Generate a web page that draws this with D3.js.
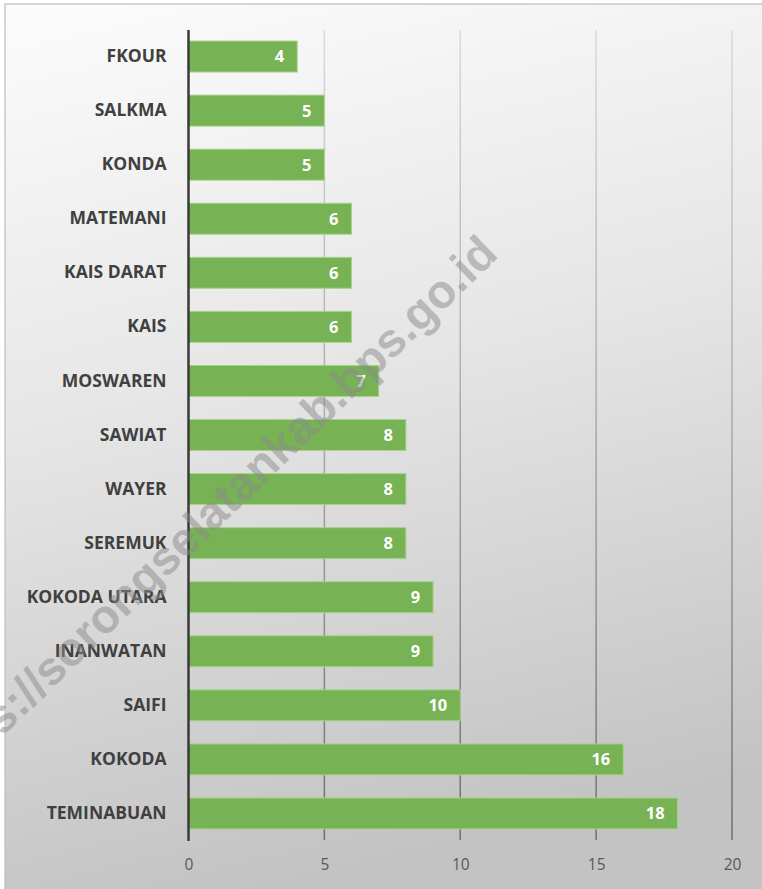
<!DOCTYPE html>
<html>
<head>
<meta charset="utf-8">
<script src="https://cdn.jsdelivr.net/npm/d3@7"></script>
<style>
  html, body { margin: 0; padding: 0; background: #ffffff; }
  svg { display: block; }
</style>
</head>
<body>
<svg id="chart" width="762" height="889"></svg>
<script>
const categories = ["FKOUR","SALKMA","KONDA","MATEMANI","KAIS DARAT","KAIS","MOSWAREN","SAWIAT","WAYER","SEREMUK","KOKODA UTARA","INANWATAN","SAIFI","KOKODA","TEMINABUAN"];
const values = [4,5,5,6,6,6,7,8,8,8,9,9,10,16,18];
const tickValues = [0,5,10,15,20];
const watermark = "https://sorongselatankab.bps.go.id";

const W = 762, H = 889;
const svg = d3.select("#chart");
const defs = svg.append("defs");

const bg = defs.append("linearGradient").attr("id","bg")
  .attr("x1","0.1").attr("y1","0").attr("x2","0.3").attr("y2","1");
bg.append("stop").attr("offset","0").attr("stop-color","#fbfbfb");
bg.append("stop").attr("offset","0.45").attr("stop-color","#e6e6e6");
bg.append("stop").attr("offset","1").attr("stop-color","#c3c3c3");

const gl = defs.append("linearGradient").attr("id","grid")
  .attr("gradientUnits","userSpaceOnUse")
  .attr("x1",0).attr("y1",30).attr("x2",0).attr("y2",840);
gl.append("stop").attr("offset","0").attr("stop-color","#dadada");
gl.append("stop").attr("offset","0.5").attr("stop-color","#a8a8a8");
gl.append("stop").attr("offset","1").attr("stop-color","#6e6e6e");

svg.append("rect").attr("x",5).attr("y",4).attr("width",W).attr("height",H)
  .attr("fill","url(#bg)").attr("stroke","#bdbdbd").attr("stroke-width",1.2);

const x = d3.scaleLinear().domain([0,20]).range([188.5,732]);
const y = d3.scaleBand().domain(categories).range([29.5,840.5])
  .paddingInner(0.427).paddingOuter(0.2135);

// gridlines
svg.append("g").selectAll("line.grid").data(tickValues.filter(d => d > 0)).join("line")
  .attr("class","grid")
  .attr("x1", d => x(d)).attr("x2", d => x(d))
  .attr("y1", 30).attr("y2", 840)
  .attr("stroke","url(#grid)").attr("stroke-width",1.5);

// tick labels via axis
const xAxis = d3.axisBottom(x).tickValues(tickValues).tickSize(0).tickPadding(0);
const gx = svg.append("g").attr("transform","translate(0,859)").call(xAxis);
gx.select(".domain").remove();
gx.selectAll("text")
  .attr("font-family","'Open Sans', sans-serif")
  .attr("font-size","15.5px")
  .attr("fill","#595959");

// bars
svg.append("g").selectAll("rect.bar").data(categories).join("rect")
  .attr("class","bar")
  .attr("x", x(0))
  .attr("y", d => y(d))
  .attr("width", (d,i) => x(values[i]) - x(0))
  .attr("height", y.bandwidth())
  .attr("fill","#77b255")
  .attr("stroke","#a8d38a").attr("stroke-width",1);

// zero axis line
svg.append("line")
  .attr("x1", x(0)).attr("x2", x(0)).attr("y1", 30).attr("y2", 841)
  .attr("stroke","#3a3a3a").attr("stroke-width",2.5);

// category labels
const gy = svg.append("g").attr("transform",`translate(${x(0)},0)`)
  .call(d3.axisLeft(y).tickSize(0).tickPadding(22));
gy.select(".domain").remove();
gy.selectAll("text")
  .attr("font-family","'Open Sans', sans-serif")
  .attr("font-weight","700")
  .attr("font-size","17.5px")
  .attr("fill","#404040");

// value labels
svg.append("g").selectAll("text.val").data(categories).join("text")
  .attr("class","val")
  .attr("x", (d,i) => x(values[i]) - 13)
  .attr("y", d => y(d) + y.bandwidth()/2)
  .attr("dy","0.36em")
  .attr("text-anchor","end")
  .attr("font-family","'Open Sans', sans-serif")
  .attr("font-weight","700")
  .attr("font-size","16.5px")
  .attr("fill","#ffffff")
  .text((d,i) => values[i]);

// watermark
svg.append("text")
  .attr("transform","translate(500,256) rotate(-44)")
  .attr("text-anchor","end")
  .attr("font-family","'Liberation Sans', Arial, sans-serif")
  .attr("font-weight","700")
  .attr("font-size","47px")
  .attr("fill","#8a8a8a")
  .attr("fill-opacity",0.5)
  .text(watermark);
</script>
</body>
</html>
